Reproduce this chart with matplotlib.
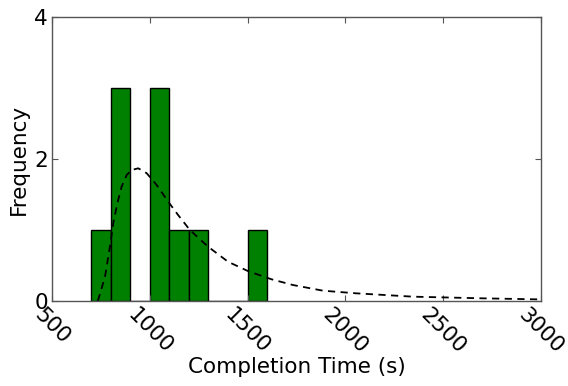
import matplotlib
matplotlib.use("Agg")
import matplotlib.pyplot as plt

# Histogram (bin edges and counts)
bin_edges = [700, 800, 900, 1000, 1100, 1200, 1300, 1400, 1500, 1600]
counts = [1, 3, 0, 3, 1, 1, 0, 0, 1]

# Fitted density curve (scaled to counts)
curve_x = [733, 737, 771, 796, 813, 834, 856, 882, 907, 941, 984, 1035, 1094,
           1145, 1205, 1298, 1400, 1503, 1622, 1732, 1886, 2056, 2345, 2695, 2967, 3000]
curve_y = [0.0, 0.024, 0.342, 0.765, 1.094, 1.376, 1.61, 1.775, 1.845, 1.869, 1.80,
           1.634, 1.40, 1.21, 1.0, 0.765, 0.553, 0.42, 0.306, 0.225, 0.145, 0.108,
           0.061, 0.038, 0.024, 0.023]

x_ticks = [500, 1000, 1500, 2000, 2500, 3000]
y_ticks = [0, 2, 4]

fig = plt.figure(figsize=(5.68, 3.86), dpi=100)
ax = fig.add_axes([52/568, 1-301/386, (541-52)/568, (301-17)/386])

widths = [bin_edges[i+1]-bin_edges[i] for i in range(len(counts))]
ax.bar(bin_edges[:-1], counts, width=widths, align='edge',
       color='#008000', edgecolor='black', linewidth=1.0)
ax.plot(curve_x, curve_y, color='black', linestyle='--', dashes=(4, 3), linewidth=1.3)

ax.set_xlim(500, 3000)
ax.set_ylim(0, 4)
ax.set_xticks(x_ticks)
ax.set_yticks(y_ticks)
ax.set_xticklabels([str(t) for t in x_ticks], rotation=-45, ha='center', va='top')
ax.tick_params(direction='in', top=True, right=True, length=4, width=0.8,
               labelsize=15.5, color='#555555', pad=3)
for s in ax.spines.values():
    s.set_color('#555555')
    s.set_linewidth(1.0)

ax.set_xlabel('Completion Time (s)', fontsize=15.5, labelpad=-1)
ax.set_ylabel('Frequency', fontsize=15.5, labelpad=4)

fig.savefig('out.png', dpi=100)
